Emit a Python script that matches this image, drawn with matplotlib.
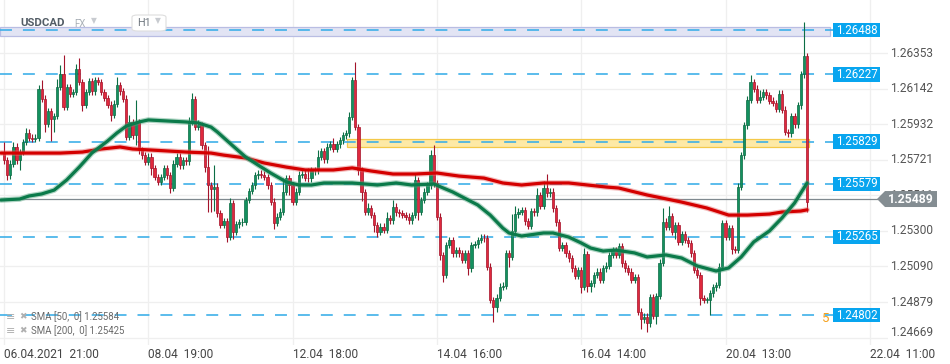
import matplotlib
matplotlib.use('Agg')
import matplotlib.pyplot as plt
import matplotlib.transforms as mtrans
from matplotlib.patches import Rectangle, Polygon, FancyBboxPatch
import numpy as np

plt.rcParams['font.family'] = ['Roboto', 'DejaVu Sans']
plt.rcParams['lines.scale_dashes'] = False

# ---------------- data ----------------
symbol = "USDCAD"
first_open = 1.25768
closes = [
    1.25719, 1.25630, 1.25699, 1.25798, 1.25719, 1.25768, 1.25827, 1.25882, 1.25851, 1.25847,
    1.25851, 1.26142, 1.26083, 1.25936, 1.26009, 1.25965, 1.25981, 1.26152, 1.26231, 1.26034,
    1.26152, 1.26113, 1.26123, 1.26261, 1.26182, 1.26048, 1.26123, 1.26186, 1.26127, 1.26192,
    1.26182, 1.26123, 1.26087, 1.26048, 1.25989, 1.26054, 1.26162, 1.26127, 1.26083, 1.25857,
    1.25945, 1.25867, 1.25945, 1.25778, 1.25748, 1.25709, 1.25739, 1.25670, 1.25620, 1.25591,
    1.25620, 1.25670, 1.25630, 1.25555, 1.25699, 1.25739, 1.25689, 1.25719, 1.25713, 1.25945,
    1.26079, 1.25916, 1.25926, 1.25808, 1.25680, 1.25571, 1.25551, 1.25561, 1.25404, 1.25335,
    1.25358, 1.25266, 1.25463, 1.25295, 1.25339, 1.25351, 1.25354, 1.25483, 1.25536, 1.25571,
    1.25630, 1.25640, 1.25634, 1.25620, 1.25571, 1.25473, 1.25349, 1.25384, 1.25414, 1.25532,
    1.25611, 1.25571, 1.25473, 1.25532, 1.25634, 1.25640, 1.25615, 1.25611, 1.25660, 1.25660,
    1.25739, 1.25772, 1.25725, 1.25798, 1.25812, 1.25788, 1.25812, 1.25837, 1.25867, 1.25877,
    1.25975, 1.26192, 1.25916, 1.25660, 1.25528, 1.25414, 1.25433, 1.25394, 1.25335, 1.25295,
    1.25325, 1.25305, 1.25374, 1.25364, 1.25443, 1.25410, 1.25404, 1.25394, 1.25384, 1.25364,
    1.25394, 1.25601, 1.25414, 1.25483, 1.25532, 1.25571, 1.25748, 1.25581, 1.25384, 1.25157,
    1.25039, 1.25217, 1.25246, 1.25167, 1.25187, 1.25167, 1.25128, 1.25167, 1.25079, 1.25217,
    1.25221, 1.25246, 1.25260, 1.25256, 1.25089, 1.24892, 1.24852, 1.24905, 1.24970, 1.24976,
    1.25167, 1.25148, 1.25299, 1.25398, 1.25414, 1.25423, 1.25358, 1.25331, 1.25418, 1.25410,
    1.25512, 1.25449, 1.25555, 1.25522, 1.25532, 1.25433, 1.25351, 1.25201, 1.25217, 1.25167,
    1.25138, 1.25079, 1.25035, 1.25069, 1.24970, 1.25161, 1.24976, 1.24990, 1.25039, 1.25059,
    1.25010, 1.25079, 1.25094, 1.25157, 1.25187, 1.25157, 1.25211, 1.25108, 1.25079, 1.25059,
    1.25010, 1.25026, 1.24823, 1.24777, 1.24793, 1.24754, 1.24907, 1.24797, 1.24915, 1.25112,
    1.25354, 1.25325, 1.25388, 1.25295, 1.25335, 1.25236, 1.25280, 1.25246, 1.25226, 1.25167,
    1.25069, 1.25039, 1.24901, 1.24892, 1.24892, 1.24931, 1.24966, 1.24980, 1.25089, 1.25345,
    1.25266, 1.25315, 1.25191, 1.25187, 1.25561, 1.25748, 1.25926, 1.26077, 1.26182, 1.26142,
    1.26077, 1.26093, 1.26123, 1.26103, 1.26070, 1.26058, 1.26024, 1.26113, 1.26018, 1.25886,
    1.25877, 1.25979, 1.25932, 1.26044, 1.26227, 1.26334, 1.25473,
]
# wick lengths above / below the candle body, in pips
upper_wick_pips = [
    6, 2, 2, 3, 2, 2, 2, 3, 2, 2,
    2, 2, 5, 2, 2, 2, 2, 5, 5, 11,
    2, 2, 2, 3, 6, 2, 2, 2, 2, 2,
    2, 2, 2, 2, 2, 2, 5, 2, 2, 2,
    4, 2, 13, 2, 2, 2, 2, 2, 2, 2,
    2, 2, 2, 2, 2, 2, 2, 2, 2, 3,
    4, 2, 3, 2, 2, 12, 2, 13, 2, 2,
    2, 2, 3, 2, 2, 2, 2, 2, 2, 2,
    2, 2, 2, 2, 2, 2, 2, 2, 2, 8,
    2, 2, 2, 2, 2, 2, 2, 6, 2, 2,
    4, 2, 2, 2, 2, 4, 2, 2, 2, 2,
    3, 2, 11, 2, 2, 2, 3, 2, 2, 2,
    2, 2, 4, 2, 4, 2, 2, 2, 2, 2,
    2, 4, 2, 2, 2, 2, 3, 6, 2, 2,
    2, 2, 2, 2, 2, 2, 2, 2, 2, 2,
    2, 2, 2, 2, 2, 2, 2, 2, 2, 2,
    2, 2, 10, 5, 2, 2, 2, 2, 2, 2,
    4, 2, 4, 8, 2, 2, 2, 2, 2, 2,
    2, 2, 2, 2, 2, 4, 2, 2, 2, 2,
    2, 2, 2, 2, 2, 2, 2, 2, 2, 2,
    2, 2, 2, 2, 2, 2, 2, 2, 2, 2,
    8, 2, 6, 2, 2, 2, 2, 2, 2, 2,
    2, 2, 2, 2, 2, 2, 2, 2, 2, 2,
    2, 2, 2, 2, 2, 2, 2, 2, 4, 2,
    2, 4, 2, 2, 2, 2, 2, 2, 2, 2,
    2, 2, 2, 2, 2, 20, 2,
]
lower_wick_pips = [
    2, 3, 2, 2, 2, 6, 2, 2, 2, 2,
    2, 2, 2, 5, 2, 13, 8, 2, 2, 2,
    2, 2, 2, 2, 2, 4, 2, 2, 2, 2,
    2, 2, 2, 2, 4, 2, 2, 2, 2, 2,
    2, 2, 6, 2, 2, 2, 2, 4, 2, 2,
    2, 2, 2, 3, 2, 2, 2, 2, 2, 2,
    2, 2, 2, 2, 3, 16, 14, 13, 2, 2,
    2, 3, 2, 4, 2, 2, 2, 2, 2, 2,
    2, 2, 2, 2, 2, 2, 4, 2, 2, 2,
    2, 6, 2, 2, 2, 2, 2, 2, 2, 3,
    2, 2, 2, 2, 2, 2, 2, 2, 2, 2,
    2, 2, 2, 3, 5, 2, 2, 2, 4, 3,
    2, 2, 2, 2, 2, 2, 2, 2, 2, 2,
    2, 2, 5, 2, 2, 2, 2, 2, 2, 3,
    4, 2, 2, 2, 2, 2, 2, 2, 4, 2,
    2, 2, 2, 2, 2, 2, 9, 3, 2, 2,
    2, 6, 2, 2, 2, 2, 2, 2, 2, 2,
    2, 2, 2, 2, 2, 2, 2, 2, 2, 2,
    2, 2, 2, 2, 4, 2, 4, 4, 2, 2,
    2, 2, 2, 2, 2, 2, 2, 2, 2, 2,
    2, 2, 2, 6, 2, 5, 2, 2, 5, 2,
    2, 2, 2, 2, 4, 2, 2, 2, 2, 2,
    2, 2, 4, 2, 2, 9, 2, 2, 2, 2,
    2, 2, 3, 2, 2, 2, 2, 2, 2, 2,
    2, 2, 2, 2, 2, 2, 2, 2, 2, 2,
    2, 2, 2, 2, 2, 2, 6,
]

sma50_bars = [-1, 5, 8, 12, 16, 20, 24, 28, 33, 36, 39, 43, 46, 52, 58, 62, 66, 68, 73, 77,
              81, 85, 90, 94, 98, 102, 111, 119, 125, 130, 137, 143, 151, 155, 159, 161, 165, 172, 175, 180,
              184, 187, 191, 195, 201, 205, 211, 216, 221, 227, 231, 235, 239, 244, 248, 252, 256]
sma50_vals = [1.25483, 1.25489, 1.25507, 1.25519, 1.25542, 1.25602, 1.25678, 1.25761, 1.25832, 1.25880,
              1.25921, 1.25945, 1.25957, 1.25951, 1.25945, 1.25939, 1.25915, 1.25886, 1.25803, 1.25738,
              1.25690, 1.25643, 1.25590, 1.25572, 1.25572, 1.25584, 1.25584, 1.25572, 1.25584, 1.25572,
              1.25578, 1.25531, 1.25454, 1.25394, 1.25317, 1.25288, 1.25270, 1.25288, 1.25288, 1.25264,
              1.25229, 1.25199, 1.25181, 1.25187, 1.25170, 1.25146, 1.25158, 1.25140, 1.25093, 1.25063,
              1.25081, 1.25146, 1.25235, 1.25300, 1.25377, 1.25465, 1.25584]
sma200_bars = [-1, 7, 18, 25, 31, 37, 41, 47, 58, 66, 70, 77, 83, 90, 96, 105, 111, 117, 124, 131,
               138, 145, 153, 159, 165, 172, 180, 186, 192, 196, 205, 216, 224, 231, 237, 244, 248, 254, 256]
sma200_vals = [1.25761, 1.25761, 1.25761, 1.25767, 1.25785, 1.25797, 1.25785, 1.25779, 1.25767, 1.25761,
               1.25749, 1.25732, 1.25702, 1.25678, 1.25661, 1.25661, 1.25673, 1.25655, 1.25637, 1.25637,
               1.25643, 1.25625, 1.25613, 1.25584, 1.25572, 1.25584, 1.25584, 1.25572, 1.25560, 1.25554,
               1.25513, 1.25471, 1.25436, 1.25394, 1.25394, 1.25400, 1.25412, 1.25418, 1.25425]

levels = [1.26488, 1.26227, 1.25829, 1.25579, 1.25265, 1.24802]
level_labels = ["1.26488", "1.26227", "1.25829", "1.25579", "1.25265", "1.24802"]
current_price = 1.25489
current_label = "1.25489"
resistance_zone = (1.26454, 1.26507)
yellow_zone = (1.25797, 1.25844)
yellow_zone_start_bar = 110

price_ticks = [1.26353, 1.26142, 1.25932, 1.25721, 1.25511, 1.25300, 1.25090, 1.24879, 1.24669]
price_tick_labels = ["1.26353", "1.26142", "1.25932", "1.25721", "1.25511", "1.25300",
                     "1.25090", "1.24879", "1.24669"]
date_tick_bars = [0, 46, 92, 138, 184, 230, 276]
date_tick_labels = ["06.04.2021  21:00", "08.04  19:00", "12.04  18:00", "14.04  16:00",
                    "16.04  14:00", "20.04  13:00", "22.04  11:00"]
legend_rows = ["SMA [50,  0] 1.25584", "SMA [200,  0] 1.25425"]

# ---------------- figure ----------------
W, H = 950, 364
fig = plt.figure(figsize=(W / 100, H / 100), dpi=100)
fig.patch.set_facecolor('white')
AX_R, AX_B = 888, 345
ax = fig.add_axes([0, (H - AX_B) / H, AX_R / W, AX_B / H])
ax.set_facecolor('white')
ax.set_xlim(-1.275, 281.8)
ax.set_ylim(1.24625, 1.26667)
for s in ax.spines.values():
    s.set_visible(False)

blend = mtrans.blended_transform_factory(ax.transAxes, ax.transData)
def fx(px):  # pixel x -> axes fraction
    return px / AX_R
PXY = 1.0 / 16900.0  # price per pixel

# grid
ax.set_yticks(price_ticks)
ax.set_yticklabels([])
ax.set_xticks(date_tick_bars)
ax.set_xticklabels(date_tick_labels, ha='left', fontsize=8.6, color='#444444')
ax.tick_params(axis='both', length=0)
ax.tick_params(axis='x', pad=2)
ax.grid(True, color='#efefef', lw=0.9, zorder=0)
ax.set_axisbelow(True)

# zones
ax.add_patch(Rectangle((0, resistance_zone[0]), fx(830), resistance_zone[1] - resistance_zone[0],
                       transform=blend, facecolor='#e2e4f4', edgecolor='#b9bde3', lw=0.9, zorder=1))
ax.add_patch(Rectangle((yellow_zone_start_bar - 0.5, yellow_zone[0]), 256.5 - yellow_zone_start_bar + 0.5,
                       yellow_zone[1] - yellow_zone[0],
                       facecolor='#fde9a6', edgecolor='#f4c94a', lw=0.9, zorder=1))

# level lines
for lv in levels:
    ax.plot([0, fx(833)], [lv, lv], transform=blend, color='#3aaee8', lw=1.3,
            dashes=(8.6, 7.9), zorder=2, alpha=0.9)

# current price line
ax.plot([0, fx(877)], [current_price, current_price], transform=blend, color='#7f898f', lw=0.9, zorder=3)

# candles
c = np.array(closes)
o = np.r_[first_open, c[:-1]]
n = len(c)
idx = np.arange(n)
hi = np.maximum(o, c) + np.array(upper_wick_pips) * 0.0001
lo = np.minimum(o, c) - np.array(lower_wick_pips) * 0.0001
up = c >= o
wick_col = np.where(up, '#0c6e45', '#a3132a')
ax.vlines(idx, lo, hi, colors=list(wick_col), lw=0.8, zorder=4)
body_h = np.maximum(np.abs(c - o), 0.00003)
body_b = np.minimum(o, c)
ax.bar(idx[up], body_h[up], bottom=body_b[up], width=0.72, color='#13915f',
       edgecolor='#0b6a43', lw=0.5, zorder=5)
ax.bar(idx[~up], body_h[~up], bottom=body_b[~up], width=0.72, color='#e0293d',
       edgecolor='#a5122a', lw=0.5, zorder=5)

# moving averages
ax.plot(sma200_bars, sma200_vals, color='#e46a6a', lw=4.0, alpha=0.45, zorder=6, solid_capstyle='round')
ax.plot(sma200_bars, sma200_vals, color='#d40000', lw=2.3, zorder=6, solid_capstyle='round')
ax.plot(sma50_bars, sma50_vals, color='#4fa37c', lw=4.0, alpha=0.45, zorder=7, solid_capstyle='round')
ax.plot(sma50_bars, sma50_vals, color='#0b7a4a', lw=2.3, zorder=7, solid_capstyle='round')

# price tick labels
for v, t in zip(price_ticks, price_tick_labels):
    yv = v if v > 1.2470 else v + 5 * PXY
    ax.text(fx(890), yv, t, transform=blend, ha='left', va='center', fontsize=8.6,
            color='#555555', zorder=8, clip_on=False)

# level labels
bh = 7.2 * PXY
for lv, t in zip(levels, level_labels):
    ax.add_patch(Rectangle((fx(833), lv - bh), fx(880) - fx(833), 2 * bh, transform=blend,
                           facecolor='#08a5ef', edgecolor='none', zorder=9, clip_on=False))
    ax.text(fx(856.5), lv, t, transform=blend, ha='center', va='center', fontsize=8.3,
            color='white', zorder=10)

# orange alert marker
ax.text(fx(822), levels[-1] - 3 * PXY, "5", transform=blend, ha='left', va='center', fontsize=9.5,
        color='#f5a01a', zorder=10)

# current price label with arrow (sits on the price-scale column)
ch = 8.0 * PXY
ax.add_patch(Polygon([(fx(877), current_price), (fx(885), current_price + ch), (fx(937), current_price + ch),
                      (fx(937), current_price - ch), (fx(885), current_price - ch)], closed=True,
                     transform=blend, facecolor='#848d92', edgecolor='none', zorder=11, clip_on=False))
ax.text(fx(911), current_price, current_label, transform=blend, ha='center', va='center',
        fontsize=8.8, color='white', fontweight='bold', zorder=12, clip_on=False)

# header
def ftxt(px, py, s, **kw):
    fig.text(px / W, 1 - py / H, s, **kw)

ftxt(20, 23, symbol, fontsize=8.2, fontweight='bold', color='#535d66', va='center', ha='left', zorder=20)
ftxt(74, 24, "FX", fontsize=7, color='#a9b0b7', va='center', ha='left', zorder=20)
ftxt(91, 21, "\u25bc", fontsize=5.5, color='#c8cbd0', va='center', ha='left', zorder=20,
     family=['DejaVu Sans'])
fig.patches.append(FancyBboxPatch((132 / W, 1 - 31 / H), 34 / W, 16 / H,
                                  boxstyle='round,pad=0,rounding_size=0.006',
                                  transform=fig.transFigure, facecolor='white', edgecolor='#dedede',
                                  lw=0.8, zorder=15))
ftxt(137, 23, "H1", fontsize=7.8, color='#707880', va='center', ha='left', zorder=20)
ftxt(155, 21, "\u25bc", fontsize=5.5, color='#c8cbd0', va='center', ha='left', zorder=20,
     family=['DejaVu Sans'])

# legend
for k, row in enumerate(legend_rows):
    yy = 317 + 14 * k
    ftxt(6, yy, "\u2261", fontsize=8, color='#b0b0b0', va='center', ha='left', family=['DejaVu Sans'])
    ftxt(19, yy, "\u2716", fontsize=6.5, color='#b0b0b0', va='center', ha='left', family=['DejaVu Sans'])
    ftxt(31, yy, row, fontsize=6.9, color='#6a6a6a', va='center', ha='left')

fig.savefig('out.png', dpi=100, facecolor='white')
